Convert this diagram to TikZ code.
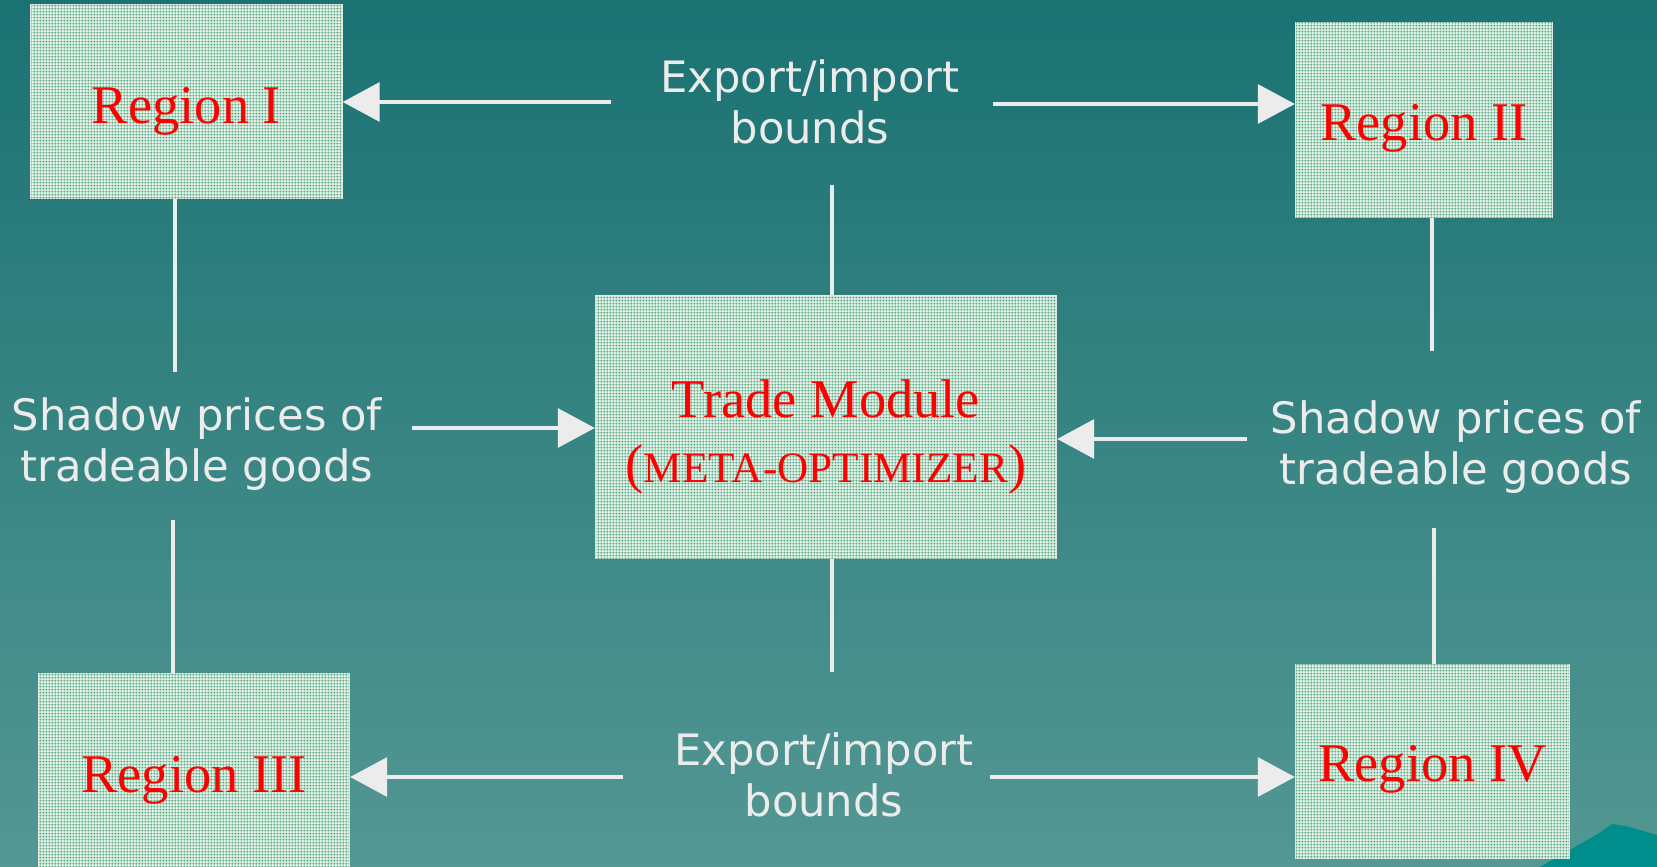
\documentclass[tikz,border=0pt]{standalone}
\usepackage{fontspec}
\setmainfont{Liberation Serif}
\newfontfamily\labelfont{DejaVu Sans}
\usetikzlibrary{arrows.meta,patterns.meta}
\definecolor{bgtop}{RGB}{26,114,114}
\definecolor{bgbot}{RGB}{84,151,147}
\definecolor{boxfill}{RGB}{226,241,232}
\definecolor{dotgreen}{RGB}{92,172,132}
\definecolor{boxedge}{RGB}{228,232,230}
\definecolor{linecol}{RGB}{236,236,236}
\definecolor{peak}{RGB}{0,142,140}
% fine dot texture for the boxes
\tikzdeclarepattern{
  name=minidots, type=uncolored,
  bottom left={(0pt,0pt)}, top right={(0.95pt,0.95pt)},
  tile size={(0.95pt,0.95pt)},
  code={
    \fill (0.475pt,0.475pt) circle (0.36pt);
  }
}
\tikzset{
  region/.style={draw=boxedge, line width=0.6pt, fill=boxfill,
    postaction={pattern=minidots, pattern color=dotgreen}, text=red,
    font=\fontsize{15.5}{18}\selectfont, inner sep=0pt},
  lbl/.style={text=linecol, align=center, inner sep=0pt,
    font=\labelfont\fontsize{12.3}{14.5}\selectfont},
  conn/.style={draw=linecol, line width=1.15pt},
  arr/.style={conn, -{Triangle[length=10.5pt,width=11pt]}},
}
% set a box caption with its baseline a given distance below the box centre
\newcommand{\basedrop}[2]{\raisebox{-#1}[0pt][0pt]{#2}}
\begin{document}
\begin{tikzpicture}[x=0.01cm, y=-0.01cm]
  % backdrop
  \useasboundingbox (0,0) rectangle (1657,867);
  \shade[top color=bgtop, bottom color=bgbot] (0,0) rectangle (1657,867);
  \fill[peak] (1540,867) -- (1578,845) -- (1598,834) -- (1612,824) -- (1626,826)
    -- (1657,835) -- (1657,867) -- cycle;

  % boxes
  \node[region, minimum width=3.1cm, minimum height=1.93cm] (r1) at (186.5,101.5) {\basedrop{6.2pt}{Region I}};
  \node[region, minimum width=2.56cm, minimum height=1.94cm] (r2) at (1424,120) {\basedrop{5.8pt}{Region II}};
  \node[region, minimum width=3.1cm, minimum height=2.02cm] (r3) at (194,775) {\basedrop{5.1pt}{Region III}};
  \node[region, minimum width=2.73cm, minimum height=1.93cm] (r4) at (1432.5,761.5) {\basedrop{5.8pt}{Region IV}};
  \node[region, minimum width=4.6cm, minimum height=2.62cm] (tm) at (826,427)
    {\basedrop{-2.7pt}{\begin{tabular}[t]{@{}c@{}}Trade Module\\[0.4pt]
     {\fontsize{15.5}{18}\selectfont(}{\fontsize{12.3}{14}\selectfont META-OPTIMIZER}{\fontsize{15.5}{18}\selectfont)}\end{tabular}}};

  % labels
  \node[lbl] (ex1) at (810,102) {Export/import\\bounds};
  \node[lbl] (ex2) at (824,775) {Export/import\\bounds};
  \node[lbl] (sh1) at (197,444) {Shadow prices of\\tradeable goods};
  \node[lbl] (sh2) at (1456,447) {Shadow prices of\\tradeable goods};

  % free ends of the connectors
  \coordinate (ex1l) at (611,102);
  \coordinate (ex1r) at (993,104);
  \coordinate (ex1d) at (832,185);
  \coordinate (ex2l) at (623,777);
  \coordinate (ex2r) at (990,777);
  \coordinate (ex2u) at (832,672);
  \coordinate (sh1u) at (175,372);
  \coordinate (sh1d) at (173,520);
  \coordinate (sh1r) at (412,428);
  \coordinate (sh2u) at (1432,351);
  \coordinate (sh2d) at (1434,528);
  \coordinate (sh2l) at (1247,439);

  % connectors
  \draw[arr] (ex1l) -- (ex1l -| r1.east);
  \draw[arr] (ex1r) -- (ex1r -| r2.west);
  \draw[conn] (ex1d) -- (ex1d |- tm.north);
  \draw[arr] (ex2l) -- (ex2l -| r3.east);
  \draw[arr] (ex2r) -- (ex2r -| r4.west);
  \draw[conn] (ex2u) -- (ex2u |- tm.south);
  \draw[conn] (sh1u |- r1.south) -- (sh1u);
  \draw[conn] (sh1d) -- (sh1d |- r3.north);
  \draw[arr] (sh1r) -- (sh1r -| tm.west);
  \draw[conn] (sh2u |- r2.south) -- (sh2u);
  \draw[conn] (sh2d) -- (sh2d |- r4.north);
  \draw[arr] (sh2l) -- (sh2l -| tm.east);
\end{tikzpicture}
\end{document}
